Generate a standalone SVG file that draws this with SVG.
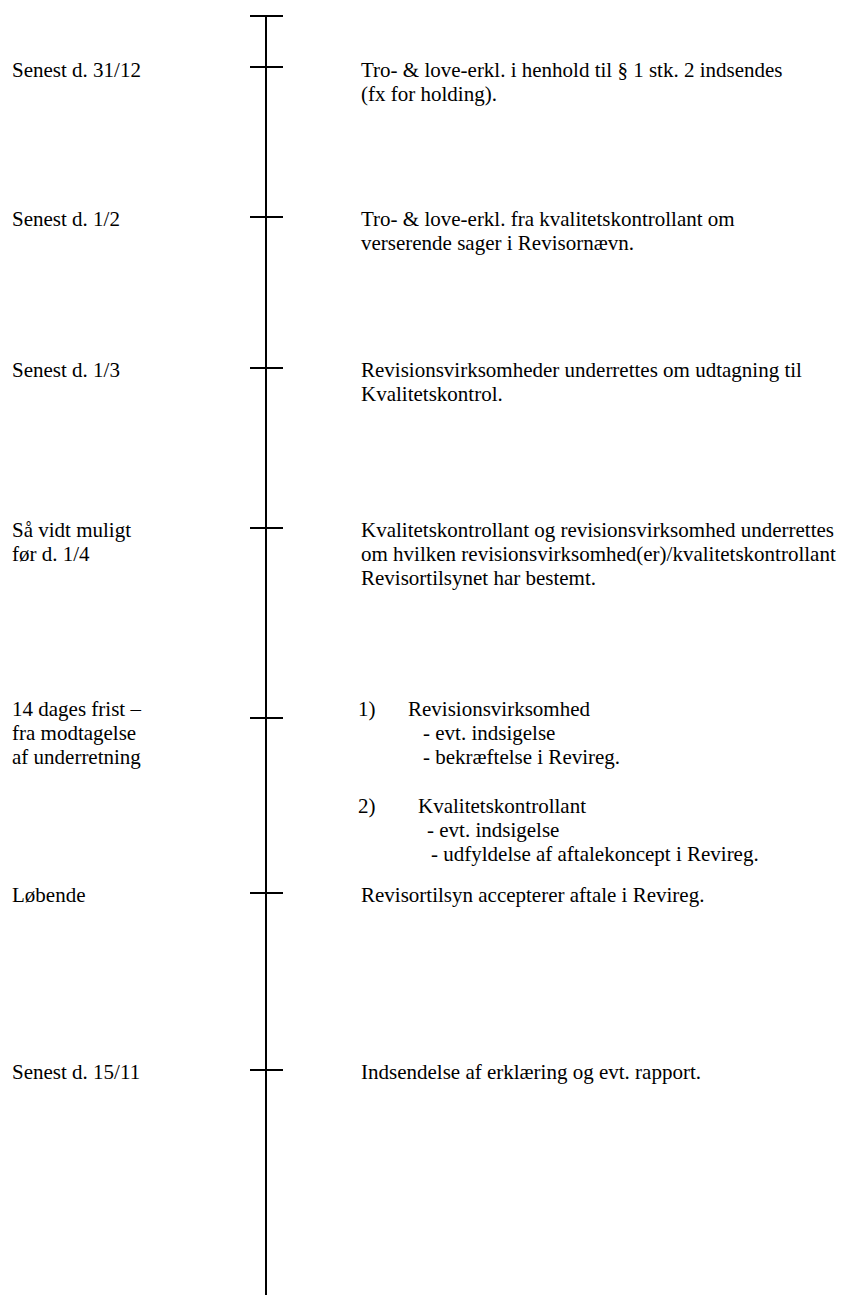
<svg xmlns="http://www.w3.org/2000/svg" width="843" height="1295" viewBox="0 0 843 1295">
<style>
text { font-family: "Liberation Serif", "Times New Roman", Times, serif; font-size: 21px; fill: #000; }
.ln { stroke: #000; stroke-width: 2; fill: none; }
</style>
<rect width="843" height="1295" fill="#fff"/>
<g id="connectors">
<line class="ln" x1="266" y1="16" x2="266" y2="1295"/>
<line class="ln" x1="250" y1="16" x2="283" y2="16"/>
</g>
<g id="node1">
<line class="ln" x1="250" y1="67" x2="283" y2="67"/>
<text x="12" y="77">Senest d. 31/12</text>
<text x="361" y="77">Tro- &amp; love-erkl. i henhold til § 1 stk. 2 indsendes</text>
<text x="361" y="101">(fx for holding).</text>
</g>
<g id="node2">
<line class="ln" x1="250" y1="217" x2="283" y2="217"/>
<text x="12" y="226">Senest d. 1/2</text>
<text x="361" y="226">Tro- &amp; love-erkl. fra kvalitetskontrollant om</text>
<text x="361" y="250">verserende sager i Revisornævn.</text>
</g>
<g id="node3">
<line class="ln" x1="250" y1="368" x2="283" y2="368"/>
<text x="12" y="377">Senest d. 1/3</text>
<text x="361" y="377">Revisionsvirksomheder underrettes om udtagning til</text>
<text x="361" y="401">Kvalitetskontrol.</text>
</g>
<g id="node4">
<line class="ln" x1="250" y1="528" x2="283" y2="528"/>
<text x="12" y="537">Så vidt muligt</text>
<text x="12" y="561">før d. 1/4</text>
<text x="361" y="537">Kvalitetskontrollant og revisionsvirksomhed underrettes</text>
<text x="361" y="561">om hvilken revisionsvirksomhed(er)/kvalitetskontrollant</text>
<text x="361" y="585">Revisortilsynet har bestemt.</text>
</g>
<g id="node5">
<line class="ln" x1="250" y1="718" x2="283" y2="718"/>
<text x="12" y="716">14 dages frist –</text>
<text x="12" y="740">fra modtagelse</text>
<text x="12" y="764">af underretning</text>
<text x="358" y="716">1)</text>
<text x="408" y="716">Revisionsvirksomhed</text>
<text x="423" y="740">- evt. indsigelse</text>
<text x="423" y="764">- bekræftelse i Revireg.</text>
<text x="358" y="813">2)</text>
<text x="418" y="813">Kvalitetskontrollant</text>
<text x="427" y="837">- evt. indsigelse</text>
<text x="431" y="861">- udfyldelse af aftalekoncept i Revireg.</text>
</g>
<g id="node6">
<line class="ln" x1="250" y1="893" x2="283" y2="893"/>
<text x="12" y="902">Løbende</text>
<text x="361" y="902">Revisortilsyn accepterer aftale i Revireg.</text>
</g>
<g id="node7">
<line class="ln" x1="250" y1="1070" x2="283" y2="1070"/>
<text x="12" y="1079">Senest d. 15/11</text>
<text x="361" y="1079">Indsendelse af erklæring og evt. rapport.</text>
</g>
</svg>
